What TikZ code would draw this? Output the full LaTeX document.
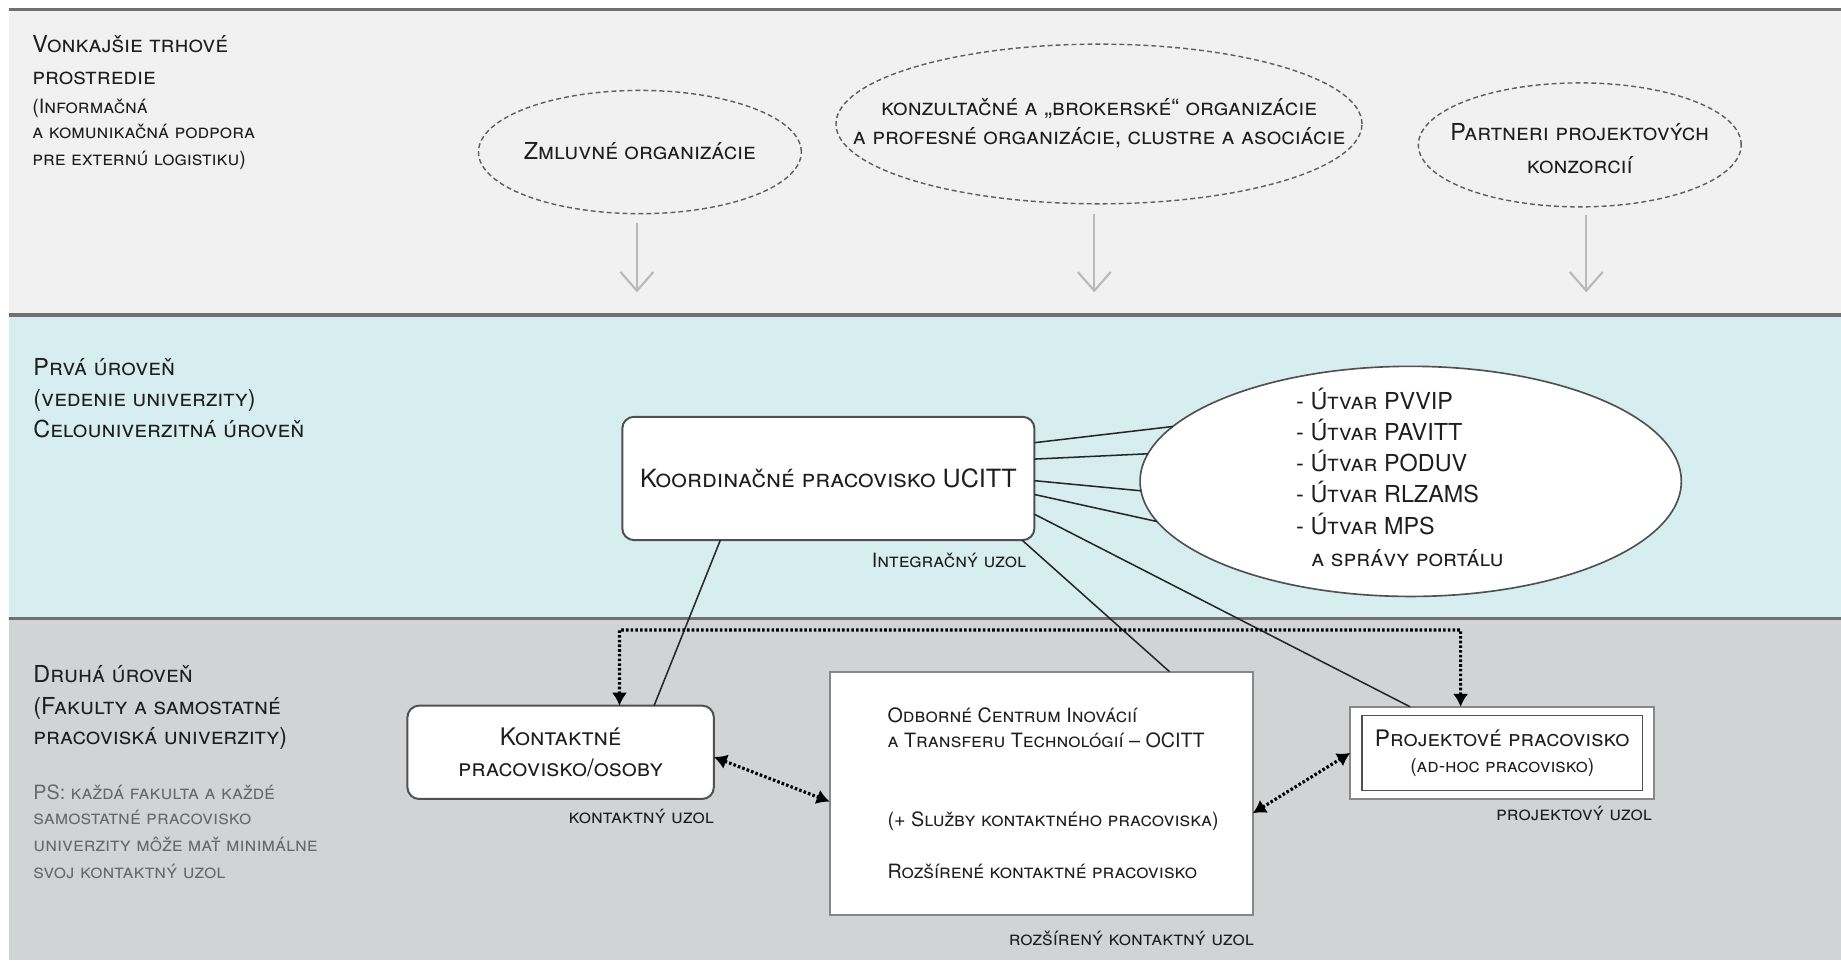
\documentclass[tikz,border=0pt]{standalone}
\usepackage{fontspec}
\setmainfont{TeX Gyre Heros}
\usetikzlibrary{arrows.meta,shapes.geometric,calc}
\definecolor{bandTop}{RGB}{241,241,241}
\definecolor{bandMid}{RGB}{214,238,240}
\definecolor{bandBot}{RGB}{210,211,213}
\definecolor{sepLine}{RGB}{112,112,112}
\definecolor{txt}{RGB}{30,30,30}
\definecolor{psGray}{RGB}{105,105,105}
\definecolor{dashGray}{RGB}{95,95,95}
\definecolor{arrGray}{RGB}{185,185,185}
\definecolor{boxBorder}{RGB}{80,80,80}
\definecolor{lightBorder}{RGB}{135,135,135}
\begin{document}
\begin{tikzpicture}[x=0.5pt,y=-0.5pt,
  bigt/.style={font=\fontsize{9.95}{12}\selectfont\scshape, text=txt, inner sep=0pt, outer sep=0pt},
  smallt/.style={font=\fontsize{8.4}{10}\selectfont\scshape, text=txt, inner sep=0pt, outer sep=0pt},
  pst/.style={smallt, text=psGray},
  dell/.style={ellipse, draw=dashGray, dash pattern=on 2.1pt off 1.3pt, line width=0.6pt, inner sep=0pt, outer sep=0pt},
  garrow/.style={draw=arrGray, line width=0.9pt, -{Straight Barb[length=8pt,width=14pt]}},
  rbox/.style={rectangle, rounded corners=5pt, draw=boxBorder, fill=white, line width=0.85pt, inner sep=0pt, outer sep=0pt, text=txt},
  sbox/.style={rectangle, draw=lightBorder, fill=white, line width=0.85pt, inner sep=0pt, outer sep=0pt},
  conn/.style={draw=black!85, line width=0.65pt},
  dotarr/.style={draw=black, line width=1.35pt, dash pattern=on 1.1pt off 0.9pt, {Latex[length=5.5pt,width=6.5pt]}-{Latex[length=5.5pt,width=6.5pt]}},
  sepl/.style={draw=sepLine, line width=1.3pt}
]
\useasboundingbox (0,0) rectangle (1568,818);
% bands
\fill[bandTop] (7.7,7.7) rectangle (1568,268.3);
\fill[bandMid] (7.7,268.3) rectangle (1568,526.4);
\fill[bandBot] (7.7,526.4) rectangle (1568,818);
\draw[sepl] (7.7,7.7) -- (1568,7.7);
\draw[sepl] (7.7,268.3) -- (1568,268.3);
\draw[sepl] (7.7,526.4) -- (1568,526.4);

% ---- top band texts
\node[bigt, anchor=base west] (v1) at (27.5,44.5) {Vonkajšie trhové};
\node[bigt, anchor=base west] (v2) at (27.5,72) {prostredie};
\node[smallt, anchor=base west] (v3) at (27.5,97) {(Informačná};
\node[smallt, anchor=base west] (v4) at (27.5,118) {a komunikačná podpora};
\node[smallt, anchor=base west] (v5) at (27.5,141) {pre externú logistiku)};

% ---- top ellipses
\node[dell, minimum width=137.5pt, minimum height=52.5pt] (ell1) at (545,129.5) {};
\node[dell, minimum width=224pt, minimum height=68pt] (ell2) at (936,105.6) {};
\node[dell, minimum width=137.5pt, minimum height=52.8pt] (ell3) at (1345.5,123.4) {};
\node[bigt, anchor=base] (t1) at (545,136) {Zmluvné organizácie};
\node[bigt, anchor=base] (t2a) at (936,98.5) {konzultačné a „brokerské“ organizácie};
\node[bigt, anchor=base] (t2b) at (936,123) {a profesné organizácie, clustre a asociácie};
\node[bigt, anchor=base] (t3a) at (1345.5,119.5) {Partneri projektových};
\node[bigt, anchor=base] (t3b) at (1345.5,147.5) {konzorcií};

\coordinate (ta1) at (542.5,249);
\coordinate (ta2) at (932,249);
\coordinate (ta3) at (1351,249);
\draw[garrow] ([xshift=-1.25pt,yshift=-4pt]ell1.south) -- (ta1);
\draw[garrow] ([xshift=-2pt,yshift=-4.5pt]ell2.south) -- (ta2);
\draw[garrow] ([xshift=2.75pt,yshift=-3.5pt]ell3.south) -- (ta3);

% ---- middle band texts
\node[bigt, anchor=base west] (p1) at (28.5,319.5) {Prvá úroveň};
\node[bigt, anchor=base west] (p2) at (28.5,346.5) {(vedenie univerzity)};
\node[bigt, anchor=base west] (p3) at (28.5,372.5) {Celouniverzitná úroveň};

% ---- nodes
\node[rbox, minimum width=175.5pt, minimum height=52.5pt, font=\fontsize{10.7}{13}\selectfont\scshape] (ucitt) at (705.5,407.5) {Koordinačné pracovisko UCITT};
\node[smallt, anchor=base east] (intl) at (874,483.6) {Integračný uzol};

\node[ellipse, draw=boxBorder, fill=white, line width=0.7pt, inner sep=0pt, outer sep=0pt, minimum width=230.5pt, minimum height=98pt] (utv) at (1201.5,410) {};
\node[bigt, anchor=base west] (u1) at (1104,348.5) {- Útvar PVVIP};
\node[bigt, anchor=base west] (u2) at (1104,375) {- Útvar PAVITT};
\node[bigt, anchor=base west] (u3) at (1104,401.5) {- Útvar PODUV};
\node[bigt, anchor=base west] (u4) at (1104,428) {- Útvar RLZAMS};
\node[bigt, anchor=base west] (u5) at (1104,455) {- Útvar MPS};
\node[bigt, anchor=base west] (u6) at (1117,482.5) {a správy portálu};

% ---- bottom band texts
\node[bigt, anchor=base west] (d1) at (28.5,581.5) {Druhá úroveň};
\node[bigt, anchor=base west] (d2) at (28.5,608.5) {(Fakulty a samostatné};
\node[bigt, anchor=base west] (d3) at (28.5,634.5) {pracoviská univerzity)};
\node[pst, anchor=base west] (s1) at (28.5,680.6) {PS: každá fakulta a každé};
\node[pst, anchor=base west] (s2) at (28.5,702.6) {samostatné pracovisko};
\node[pst, anchor=base west] (s3) at (28.5,725.6) {univerzity môže mať minimálne};
\node[pst, anchor=base west] (s4) at (28.5,748.5) {svoj kontaktný uzol};

\node[rbox, minimum width=130.5pt, minimum height=39.75pt, align=center, font=\fontsize{10.3}{13.5}\selectfont\scshape] (kont) at (477.5,640.75) {Kontaktné\\pracovisko/osoby};
\node[smallt, anchor=base east] (kontl) at (608,701) {kontaktný uzol};

\node[sbox, minimum width=180.2pt, minimum height=103.5pt] (ocitt) at (886.8,675.5) {};
\node[smallt, anchor=base west] (o1) at (756,615) {Odborné Centrum Inovácií};
\node[smallt, anchor=base west] (o2) at (756,637) {a Transferu Technológií – OCITT};
\node[smallt, anchor=base west] (o3) at (756,704) {(+ Služby kontaktného pracoviska)};
\node[smallt, anchor=base west] (o4) at (756,748) {Rozšírené kontaktné pracovisko};
\node[smallt, anchor=base east] (ocl) at (1068,805.6) {rozšírený kontaktný uzol};

\node[sbox, minimum width=129.5pt, minimum height=39.25pt] (proj) at (1279.5,641.25) {};
\node[rectangle, draw=boxBorder, fill=white, line width=0.7pt, inner sep=0pt, outer sep=0pt, minimum width=119.5pt, minimum height=32pt, align=center, text=txt, font=\fontsize{9.7}{11}\selectfont\scshape] (projin) at (proj.center) {Projektové pracovisko\\{\fontsize{8.2}{11}\selectfont\scshape (ad-hoc pracovisko)}};
\node[smallt, anchor=base east] (projl) at (1407,699) {projektový uzol};

% ---- solid connectors
\draw[conn] ($(ucitt.north east)!0.21!(ucitt.south east)$) -- (utv.167.06);
\draw[conn] ($(ucitt.north east)!0.343!(ucitt.south east)$) -- (utv.174.95);
\draw[conn] ($(ucitt.north east)!0.518!(ucitt.south east)$) -- (utv.182.5);
\draw[conn] ($(ucitt.north east)!0.63!(ucitt.south east)$) -- (utv.189.5);
\draw[conn] ($(ucitt.north east)!0.79!(ucitt.south east)$) -- ($(proj.north west)!0.197!(proj.north east)$);
\draw[conn] ($(ucitt.south west)!0.97!(ucitt.south east)$) -- ($(ocitt.north west)!0.803!(ocitt.north east)$);
\draw[conn] ($(ucitt.south west)!0.238!(ucitt.south east)$) -- ($(kont.north west)!0.805!(kont.north east)$);

% ---- dotted arrows
\coordinate (dl) at (527.6,536.6);
\coordinate (dr) at (1244,536.6);
\draw[dotarr] ($(kont.north west)!0.692!(kont.north east)$) -- (dl) -- (dr) -- ($(proj.north west)!0.363!(proj.north east)$);
\draw[dotarr] ($(kont.north east)!0.55!(kont.south east)$) -- ($(ocitt.north west)!0.535!(ocitt.south west)$);
\draw[dotarr] ($(ocitt.north east)!0.583!(ocitt.south east)$) -- (proj.west);
\end{tikzpicture}
\end{document}
